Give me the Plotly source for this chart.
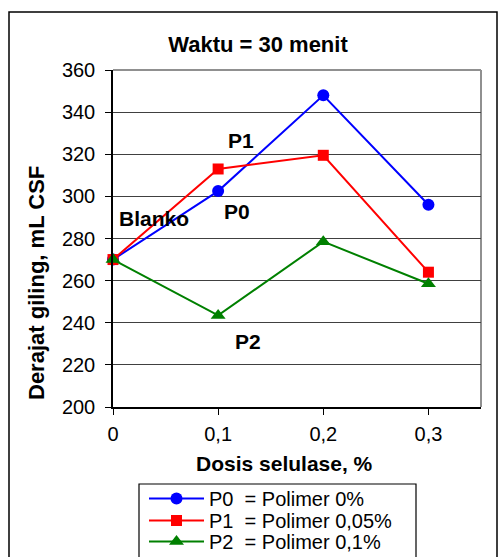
import plotly.graph_objects as go

dosis = [0, 0.1, 0.2, 0.3]
x_tick_vals = [0, 0.1, 0.2, 0.3]
x_tick_text = ["0", "0,1", "0,2", "0,3"]
p0 = [270, 302.5, 348, 296]
p1 = [270, 313, 319.5, 264]
p2 = [270, 243.5, 278.5, 258.5]
series_names = ["P0\u00a0\u00a0= Polimer 0%", "P1\u00a0\u00a0= Polimer 0,05%", "P2\u00a0\u00a0= Polimer 0,1%"]
labels = ["P1", "P0", "P2", "Blanko"]
label_x = [0.1217, 0.118, 0.1284, 0.039]
label_y = [326.3, 292.6, 230.9, 289.7]

FONT = "Liberation Sans, Arial, sans-serif"
W, H = 498, 557
ML, MR, MT, MB = 113, 17, 70, 150
PW, PH = W - ML - MR, H - MT - MB


def px_x(px):
    return (px - ML) / PW


def px_y(py):
    return (H - MB - py) / PH


fig = go.Figure()
styles = [
    ("#0000FF", "circle", 12),
    ("#FF0000", "square", 11),
    ("#008000", "triangle-up", 13),
]
legend_ids = ["legend", "legend2", "legend3"]
row_centers = [500, 522, 543]
for ys, name, (col, sym, sz), lid in zip([p0, p1, p2], series_names, styles, legend_ids):
    fig.add_trace(go.Scatter(
        x=dosis, y=ys, name=name, mode="lines+markers",
        line=dict(color=col, width=2),
        marker=dict(color=col, symbol=sym, size=sz),
        cliponaxis=False, legend=lid,
    ))

for t, lx, ly in zip(labels, label_x, label_y):
    fig.add_annotation(x=lx, y=ly, text="<b>%s</b>" % t, showarrow=False,
                       font=dict(size=21, color="black", family=FONT),
                       xanchor="center", yanchor="middle")

# axis titles
fig.add_annotation(xref="paper", yref="paper", x=px_x(284), y=px_y(463),
                   text="<b>Dosis selulase, %</b>", showarrow=False,
                   font=dict(size=21, color="black", family=FONT),
                   xanchor="center", yanchor="middle")
fig.add_annotation(xref="paper", yref="paper", x=px_x(36), y=px_y(283),
                   text="<b>Derajat giling, mL CSF</b>", showarrow=False, textangle=-90,
                   font=dict(size=22, color="black", family=FONT),
                   xanchor="center", yanchor="middle")

legend_common = dict(xref="paper", yref="container", xanchor="left", yanchor="top",
                     borderwidth=0, bgcolor="rgba(0,0,0,0)",
                     font=dict(size=20, family=FONT), itemwidth=55)
leg_layout = {}
for lid, rc in zip(legend_ids, row_centers):
    leg_layout[lid] = dict(x=px_x(144), y=(H - (rc - 21)) / H, **legend_common)

fig.update_layout(
    width=W, height=H,
    margin=dict(l=ML, r=MR, t=MT, b=MB),
    paper_bgcolor="white", plot_bgcolor="white",
    font=dict(family=FONT, color="black", size=20),
    title=dict(text="<b>Waktu = 30 menit</b>", x=258 / W, xref="container",
               y=1 - 44 / H, yref="container", xanchor="center", yanchor="middle",
               font=dict(size=22, family=FONT)),
    showlegend=True,
    xaxis=dict(range=[0, 0.35], tickvals=x_tick_vals, ticktext=x_tick_text,
               showgrid=False, zeroline=False, showline=True, linecolor="black", linewidth=1.5,
               ticks="outside", ticklen=6, tickcolor="black", ticklabelstandoff=2,
               automargin=False),
    yaxis=dict(range=[200, 360], dtick=20, showgrid=True, gridcolor="#404040", gridwidth=1,
               zeroline=False, showline=True, linecolor="black", linewidth=1.5,
               ticks="outside", ticklen=6, tickcolor="black", ticklabelstandoff=6,
               automargin=False),
    **leg_layout,
)

# plot area frame (top/right gray)
fig.add_shape(type="line", xref="paper", yref="paper", x0=0, x1=1, y0=1, y1=1,
              line=dict(color="#909090", width=2), layer="below")
fig.add_shape(type="line", xref="paper", yref="paper", x0=1, x1=1, y0=0, y1=1,
              line=dict(color="#909090", width=2), layer="below")
# legend box
fig.add_shape(type="rect", xref="paper", yref="paper",
              x0=px_x(139), x1=px_x(416), y0=-0.6, y1=px_y(484),
              line=dict(color="black", width=1.2), layer="below")
# outer chart border
fig.add_shape(type="rect", xref="paper", yref="paper",
              x0=px_x(9), x1=px_x(497), y0=-0.6, y1=px_y(12),
              line=dict(color="black", width=1.5))

fig.write_html("out.html", config={"displayModeBar": False},
               post_script="document.body.style.margin='0';")
